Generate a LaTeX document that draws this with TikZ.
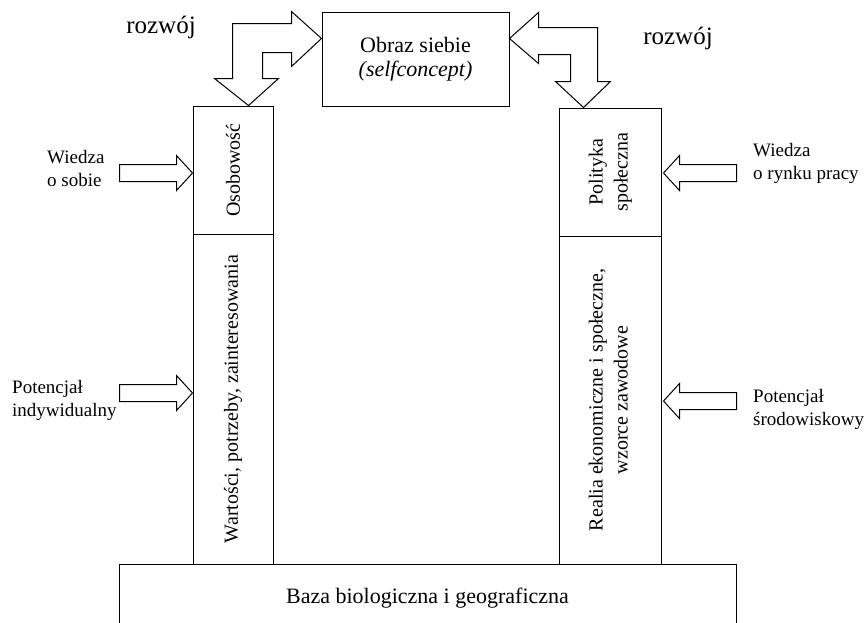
\documentclass[tikz,border=0pt]{standalone}
\usepackage{fontspec}
\setmainfont{Liberation Serif}
\usepackage{graphicx}
\usetikzlibrary{calc}
\tikzset{
    box/.style={draw, line width=1pt, inner sep=0pt, align=center, font=\fontsize{20}{25}\selectfont},
    side/.style={anchor=west, align=left, inner sep=0pt, font=\fontsize{19}{23}\selectfont},
    growth/.style={inner sep=0pt, font=\fontsize{25}{30}\selectfont},
    bigarrow/.style={draw, line width=1pt, fill=white, line join=miter},
    sidearrow/.pic={
        \draw[bigarrow] (0,0) -- (-16,-17.5) -- (-16,-8.5) -- (-73,-8.5) -- (-73,8.5) -- (-16,8.5) -- (-16,17.5) -- cycle;
    }
}
\begin{document}
\begin{tikzpicture}[x=1pt, y=-1pt]
    \useasboundingbox (0,0) rectangle (867,622);

    % Central self-concept box and the two pillars
    \node[box, minimum width=187, minimum height=94, font=\fontsize{22}{24}\selectfont] (obraz) at (415.5,59) {Obraz siebie\\\textit{(selfconcept)}};
    \node[box, minimum width=80, minimum height=128] (oso) at (233,170) {\rotatebox{90}{Osobowość}};
    \node[box, minimum width=80, minimum height=330] (wart) at (233,399) {\rotatebox{90}{Wartości, potrzeby, zainteresowania}};
    \node[box, minimum width=102, minimum height=128] (pol) at (610,172) {\rotatebox{90}{\begin{tabular}{@{}c@{}}Polityka\\społeczna\end{tabular}}};
    \node[box, minimum width=102, minimum height=328] (realia) at (610,400) {\rotatebox{90}{\begin{tabular}{@{}c@{}}Realia ekonomiczne i społeczne,\\wzorce zawodowe\end{tabular}}};
    \node[box, minimum width=617, minimum height=68, font=\fontsize{22}{26}\selectfont] (baza) at (427.5,598) {Baza biologiczna i geograficzna};

    % Bent double arrows (development)
    \draw[bigarrow] ($(obraz.north west)+(0,27)$) -- ++(-30,-27) -- ++(0,12) -- ++(-59,0) -- ++(0,55) -- ++(-18,0)
        -- ++(34,27) -- ++(30,-27) -- ++(-16,0) -- ++(0,-26) -- ++(29,0) -- ++(0,14) -- cycle;
    \draw[bigarrow] ($(obraz.north east)+(0,27)$) -- ++(29,-26) -- ++(0,15) -- ++(59,0) -- ++(0,54) -- ++(13,0)
        -- ++(-27,26) -- ++(-28,-26) -- ++(15,0) -- ++(0,-27) -- ++(-32,0) -- ++(0,9) -- cycle;
    \node[growth] (rozL) at (161,27) {rozwój};
    \node[growth] (rozR) at (678,38) {rozwój};

    % Side inputs
    \pic at ($(oso.west)+(0,3)$) {sidearrow};
    \pic at ($(wart.west)+(0,-6)$) {sidearrow};
    \pic[xscale=-1] at ($(pol.east)+(2,1)$) {sidearrow};
    \pic[xscale=-1] at ($(realia.east)+(2,1)$) {sidearrow};
    \node[side] (wsob) at (47,168) {Wiedza\\o sobie};
    \node[side] (potind) at (12,400) {Potencjał\\indywidualny};
    \node[side] (wryn) at (753,163) {Wiedza\\o rynku pracy};
    \node[side] (potsr) at (753,409) {Potencjał\\środowiskowy};
\end{tikzpicture}
\end{document}
